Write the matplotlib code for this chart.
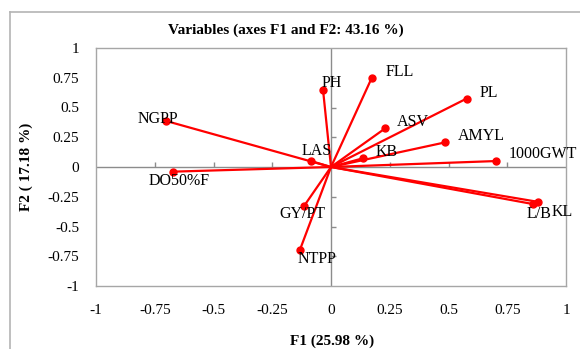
import matplotlib
matplotlib.use("Agg")
import matplotlib.pyplot as plt
from matplotlib.lines import Line2D

plt.rcParams['font.family'] = ['Liberation Serif', 'DejaVu Serif']

# variable loadings on F1 / F2
names = ["PH", "FLL", "PL", "ASV", "AMYL", "KB", "1000GWT", "LAS",
         "NGPP", "DO50%F", "GY/PT", "NTPP", "L/B", "KL"]
f1 = [-0.034, 0.173, 0.577, 0.230, 0.486, 0.135, 0.702, -0.085,
      -0.702, -0.671, -0.114, -0.132, 0.861, 0.881]
f2 = [0.650, 0.747, 0.575, 0.324, 0.207, 0.073, 0.050, 0.050,
      0.387, -0.039, -0.326, -0.695, -0.312, -0.293]

ticks = [-1, -0.75, -0.5, -0.25, 0, 0.25, 0.5, 0.75, 1]
tick_labels = ["-1", "-0.75", "-0.5", "-0.25", "0", "0.25", "0.5", "0.75", "1"]

# label offsets in pixels (dx, dy)
offsets = {"PH": (9, 7), "FLL": (28, 6), "PL": (22, 6), "ASV": (28, 6),
           "AMYL": (36, 6), "KB": (24, 6), "1000GWT": (47, 7), "LAS": (6, 10),
           "NGPP": (-8, 2), "DO50%F": (6, -9), "GY/PT": (-2, -8),
           "NTPP": (17, -9), "L/B": (6, -10), "KL": (24, -10)}

W, H = 580, 349
fig = plt.figure(figsize=(W / 100, H / 100), dpi=100)
ax = fig.add_axes([96 / W, (H - 286) / H, 470 / W, 238 / H])

gray = "#a6a6a6"
for s in ax.spines.values():
    s.set_color(gray)
    s.set_linewidth(1)

ax.set_xlim(-1, 1)
ax.set_ylim(-1, 1)
ax.set_xticks(ticks)
ax.set_xticklabels(tick_labels)
ax.set_yticks(ticks)
ax.set_yticklabels(tick_labels)
ax.tick_params(length=0, labelsize=11)
ax.tick_params(axis="x", pad=13)
ax.tick_params(axis="y", pad=12)

# zero axes with small tick marks
ax.axhline(0, color="#8c8c8c", lw=1, zorder=1)
ax.axvline(0, color="#8c8c8c", lw=1, zorder=1)
inner = [t for t in ticks if t not in (-1, 0, 1)]
ax.vlines(inner, 0, 0.045, color="#8c8c8c", lw=1, zorder=1)
ax.hlines(inner, 0, 0.023, color="#8c8c8c", lw=1, zorder=1)

for n, x, y in zip(names, f1, f2):
    ax.plot([0, x], [0, y], color="#ff0000", lw=1.6, zorder=2)
    ax.plot(x, y, "o", color="#ff0000", ms=5, zorder=3)
    dx, dy = offsets[n]
    ax.annotate(n, (x, y), xytext=(dx, dy), textcoords="offset pixels",
                ha="center", va="center", fontsize=11.5, annotation_clip=False)

fig.text(286 / W, 1 - 30 / H, "Variables (axes F1 and F2: 43.16 %)",
         ha="center", va="center", fontsize=11, fontweight="bold")
fig.text(332 / W, 1 - 341 / H, "F1 (25.98 %)", ha="center", va="center",
         fontsize=11, fontweight="bold")
fig.text(26 / W, 1 - 167 / H, "F2 ( 17.18 %)", ha="center", va="center",
         rotation=90, fontsize=11, fontweight="bold")

# outer frame (left and top edges visible)
fig.add_artist(Line2D([10 / W, 10 / W], [0, 1 - 12 / H], color="#b4b4b4", lw=1.2))
fig.add_artist(Line2D([10 / W, 1], [1 - 12 / H, 1 - 12 / H], color="#b4b4b4", lw=1.2))

fig.savefig("out.png", dpi=100)
